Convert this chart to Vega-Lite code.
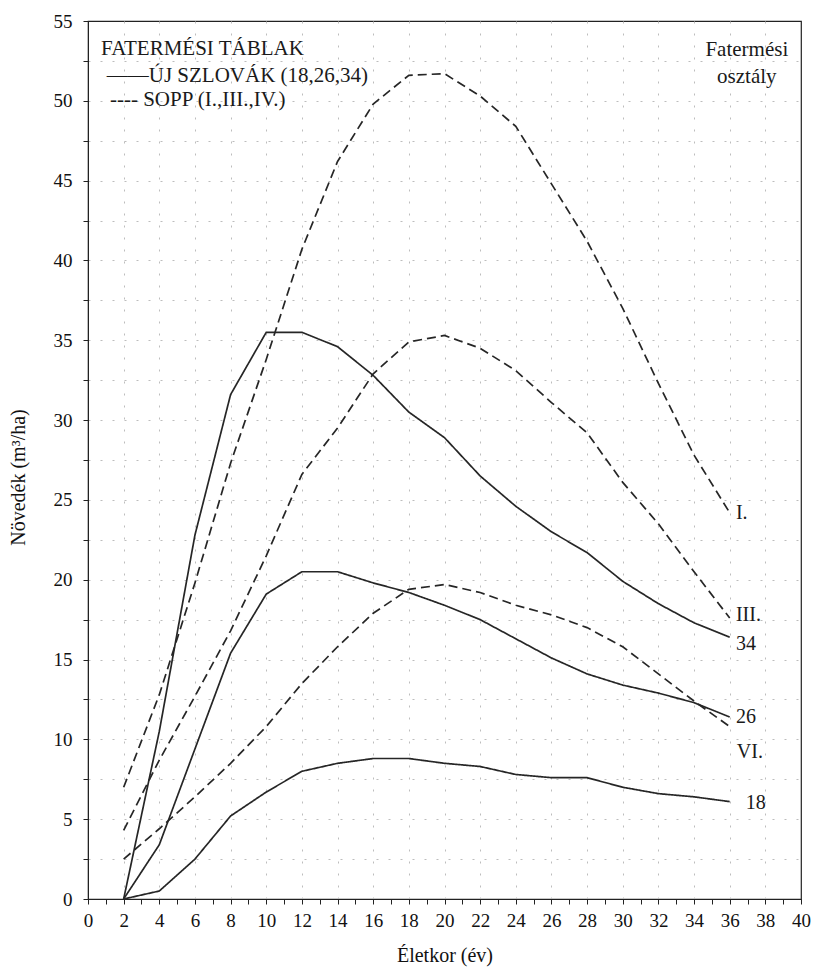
{
  "$schema": "https://vega.github.io/schema/vega-lite/v6.json",
  "width": 713,
  "height": 878,
  "autosize": "none",
  "padding": {"left": 88, "top": 21, "right": 13, "bottom": 76},
  "background": "white",
  "config": {
    "font": "Liberation Serif",
    "view": {"stroke": "#222", "strokeWidth": 1.2},
    "axis": {"labelFont": "Liberation Serif", "titleFont": "Liberation Serif"},
    "text": {"font": "Liberation Serif"}
  },
  "datasets": {
    "curves": [
      {"table": "ÚJ SZLOVÁK", "s": "34", "age": 2, "v": 0},
      {"table": "ÚJ SZLOVÁK", "s": "34", "age": 4, "v": 10.5},
      {"table": "ÚJ SZLOVÁK", "s": "34", "age": 6, "v": 22.8},
      {"table": "ÚJ SZLOVÁK", "s": "34", "age": 8, "v": 31.6},
      {"table": "ÚJ SZLOVÁK", "s": "34", "age": 10, "v": 35.5},
      {"table": "ÚJ SZLOVÁK", "s": "34", "age": 12, "v": 35.5},
      {"table": "ÚJ SZLOVÁK", "s": "34", "age": 14, "v": 34.6},
      {"table": "ÚJ SZLOVÁK", "s": "34", "age": 16, "v": 32.8},
      {"table": "ÚJ SZLOVÁK", "s": "34", "age": 18, "v": 30.5},
      {"table": "ÚJ SZLOVÁK", "s": "34", "age": 20, "v": 28.9},
      {"table": "ÚJ SZLOVÁK", "s": "34", "age": 22, "v": 26.5},
      {"table": "ÚJ SZLOVÁK", "s": "34", "age": 24, "v": 24.6},
      {"table": "ÚJ SZLOVÁK", "s": "34", "age": 26, "v": 23.0},
      {"table": "ÚJ SZLOVÁK", "s": "34", "age": 28, "v": 21.7},
      {"table": "ÚJ SZLOVÁK", "s": "34", "age": 30, "v": 19.9},
      {"table": "ÚJ SZLOVÁK", "s": "34", "age": 32, "v": 18.5},
      {"table": "ÚJ SZLOVÁK", "s": "34", "age": 34, "v": 17.3},
      {"table": "ÚJ SZLOVÁK", "s": "34", "age": 36, "v": 16.4},
      {"table": "ÚJ SZLOVÁK", "s": "26", "age": 2, "v": 0},
      {"table": "ÚJ SZLOVÁK", "s": "26", "age": 4, "v": 3.4},
      {"table": "ÚJ SZLOVÁK", "s": "26", "age": 6, "v": 9.4},
      {"table": "ÚJ SZLOVÁK", "s": "26", "age": 8, "v": 15.4},
      {"table": "ÚJ SZLOVÁK", "s": "26", "age": 10, "v": 19.1},
      {"table": "ÚJ SZLOVÁK", "s": "26", "age": 12, "v": 20.5},
      {"table": "ÚJ SZLOVÁK", "s": "26", "age": 14, "v": 20.5},
      {"table": "ÚJ SZLOVÁK", "s": "26", "age": 16, "v": 19.8},
      {"table": "ÚJ SZLOVÁK", "s": "26", "age": 18, "v": 19.2},
      {"table": "ÚJ SZLOVÁK", "s": "26", "age": 20, "v": 18.4},
      {"table": "ÚJ SZLOVÁK", "s": "26", "age": 22, "v": 17.5},
      {"table": "ÚJ SZLOVÁK", "s": "26", "age": 24, "v": 16.3},
      {"table": "ÚJ SZLOVÁK", "s": "26", "age": 26, "v": 15.1},
      {"table": "ÚJ SZLOVÁK", "s": "26", "age": 28, "v": 14.1},
      {"table": "ÚJ SZLOVÁK", "s": "26", "age": 30, "v": 13.4},
      {"table": "ÚJ SZLOVÁK", "s": "26", "age": 32, "v": 12.9},
      {"table": "ÚJ SZLOVÁK", "s": "26", "age": 34, "v": 12.3},
      {"table": "ÚJ SZLOVÁK", "s": "26", "age": 36, "v": 11.4},
      {"table": "ÚJ SZLOVÁK", "s": "18", "age": 2, "v": 0},
      {"table": "ÚJ SZLOVÁK", "s": "18", "age": 4, "v": 0.5},
      {"table": "ÚJ SZLOVÁK", "s": "18", "age": 6, "v": 2.5},
      {"table": "ÚJ SZLOVÁK", "s": "18", "age": 8, "v": 5.2},
      {"table": "ÚJ SZLOVÁK", "s": "18", "age": 10, "v": 6.7},
      {"table": "ÚJ SZLOVÁK", "s": "18", "age": 12, "v": 8.0},
      {"table": "ÚJ SZLOVÁK", "s": "18", "age": 14, "v": 8.5},
      {"table": "ÚJ SZLOVÁK", "s": "18", "age": 16, "v": 8.8},
      {"table": "ÚJ SZLOVÁK", "s": "18", "age": 18, "v": 8.8},
      {"table": "ÚJ SZLOVÁK", "s": "18", "age": 20, "v": 8.5},
      {"table": "ÚJ SZLOVÁK", "s": "18", "age": 22, "v": 8.3},
      {"table": "ÚJ SZLOVÁK", "s": "18", "age": 24, "v": 7.8},
      {"table": "ÚJ SZLOVÁK", "s": "18", "age": 26, "v": 7.6},
      {"table": "ÚJ SZLOVÁK", "s": "18", "age": 28, "v": 7.6},
      {"table": "ÚJ SZLOVÁK", "s": "18", "age": 30, "v": 7.0},
      {"table": "ÚJ SZLOVÁK", "s": "18", "age": 32, "v": 6.6},
      {"table": "ÚJ SZLOVÁK", "s": "18", "age": 34, "v": 6.4},
      {"table": "ÚJ SZLOVÁK", "s": "18", "age": 36, "v": 6.1},
      {"table": "SOPP", "s": "I.", "age": 2, "v": 7.0},
      {"table": "SOPP", "s": "I.", "age": 4, "v": 12.8},
      {"table": "SOPP", "s": "I.", "age": 6, "v": 19.8},
      {"table": "SOPP", "s": "I.", "age": 8, "v": 27.3},
      {"table": "SOPP", "s": "I.", "age": 10, "v": 33.8},
      {"table": "SOPP", "s": "I.", "age": 12, "v": 40.7},
      {"table": "SOPP", "s": "I.", "age": 14, "v": 46.2},
      {"table": "SOPP", "s": "I.", "age": 16, "v": 49.8},
      {"table": "SOPP", "s": "I.", "age": 18, "v": 51.6},
      {"table": "SOPP", "s": "I.", "age": 20, "v": 51.7},
      {"table": "SOPP", "s": "I.", "age": 22, "v": 50.3},
      {"table": "SOPP", "s": "I.", "age": 24, "v": 48.4},
      {"table": "SOPP", "s": "I.", "age": 26, "v": 44.8},
      {"table": "SOPP", "s": "I.", "age": 28, "v": 41.2},
      {"table": "SOPP", "s": "I.", "age": 30, "v": 37.0},
      {"table": "SOPP", "s": "I.", "age": 32, "v": 32.3},
      {"table": "SOPP", "s": "I.", "age": 34, "v": 27.8},
      {"table": "SOPP", "s": "I.", "age": 36, "v": 24.2},
      {"table": "SOPP", "s": "III.", "age": 2, "v": 4.3},
      {"table": "SOPP", "s": "III.", "age": 4, "v": 8.7},
      {"table": "SOPP", "s": "III.", "age": 6, "v": 12.7},
      {"table": "SOPP", "s": "III.", "age": 8, "v": 16.8},
      {"table": "SOPP", "s": "III.", "age": 10, "v": 21.5},
      {"table": "SOPP", "s": "III.", "age": 12, "v": 26.6},
      {"table": "SOPP", "s": "III.", "age": 14, "v": 29.5},
      {"table": "SOPP", "s": "III.", "age": 16, "v": 32.9},
      {"table": "SOPP", "s": "III.", "age": 18, "v": 34.9},
      {"table": "SOPP", "s": "III.", "age": 20, "v": 35.3},
      {"table": "SOPP", "s": "III.", "age": 22, "v": 34.5},
      {"table": "SOPP", "s": "III.", "age": 24, "v": 33.1},
      {"table": "SOPP", "s": "III.", "age": 26, "v": 31.1},
      {"table": "SOPP", "s": "III.", "age": 28, "v": 29.2},
      {"table": "SOPP", "s": "III.", "age": 30, "v": 26.1},
      {"table": "SOPP", "s": "III.", "age": 32, "v": 23.5},
      {"table": "SOPP", "s": "III.", "age": 34, "v": 20.5},
      {"table": "SOPP", "s": "III.", "age": 36, "v": 17.6},
      {"table": "SOPP", "s": "VI.", "age": 2, "v": 2.5},
      {"table": "SOPP", "s": "VI.", "age": 4, "v": 4.4},
      {"table": "SOPP", "s": "VI.", "age": 6, "v": 6.4},
      {"table": "SOPP", "s": "VI.", "age": 8, "v": 8.5},
      {"table": "SOPP", "s": "VI.", "age": 10, "v": 10.8},
      {"table": "SOPP", "s": "VI.", "age": 12, "v": 13.5},
      {"table": "SOPP", "s": "VI.", "age": 14, "v": 15.8},
      {"table": "SOPP", "s": "VI.", "age": 16, "v": 17.9},
      {"table": "SOPP", "s": "VI.", "age": 18, "v": 19.4},
      {"table": "SOPP", "s": "VI.", "age": 20, "v": 19.7},
      {"table": "SOPP", "s": "VI.", "age": 22, "v": 19.2},
      {"table": "SOPP", "s": "VI.", "age": 24, "v": 18.4},
      {"table": "SOPP", "s": "VI.", "age": 26, "v": 17.8},
      {"table": "SOPP", "s": "VI.", "age": 28, "v": 17.0},
      {"table": "SOPP", "s": "VI.", "age": 30, "v": 15.8},
      {"table": "SOPP", "s": "VI.", "age": 32, "v": 14.1},
      {"table": "SOPP", "s": "VI.", "age": 34, "v": 12.4},
      {"table": "SOPP", "s": "VI.", "age": 36, "v": 10.8}
    ],
    "curveLabels": [
      {"text": "I.", "age": 36.35, "v": 24.2},
      {"text": "III.", "age": 36.35, "v": 17.8},
      {"text": "34", "age": 36.35, "v": 16.0},
      {"text": "26", "age": 36.35, "v": 11.4},
      {"text": "VI.", "age": 36.4, "v": 9.2},
      {"text": "18", "age": 36.9, "v": 6.0}
    ],
    "legendText": [
      {"text": "FATERMÉSI TÁBLAK", "age": 0.73, "v": 53.27},
      {"text": "——ÚJ SZLOVÁK (18,26,34)", "age": 1.05, "v": 51.54},
      {"text": "---- SOPP (I.,III.,IV.)", "age": 1.23, "v": 50.03}
    ],
    "classText": [
      {"text": "Fatermési", "age": 36.96, "v": 53.2},
      {"text": "osztály", "age": 36.96, "v": 51.5}
    ]
  },
  "encoding": {
    "x": {
      "field": "age", "type": "quantitative",
      "scale": {"domain": [0, 40], "nice": false, "zero": false},
      "axis": {
        "values": [0,1,2,3,4,5,6,7,8,9,10,11,12,13,14,15,16,17,18,19,20,21,22,23,24,25,26,27,28,29,30,31,32,33,34,35,36,37,38,39,40],
        "labelExpr": "datum.value % 2 === 0 ? format(datum.value, 'd') : ''",
        "labelOverlap": false,
        "labelFlush": false,
        "labelFontSize": 19,
        "labelColor": "#111",
        "labelPadding": 7,
        "tickSize": 5,
        "tickColor": "#222",
        "domainColor": "#222",
        "grid": true,
        "gridColor": "#bdbdbd",
        "gridDash": [2, 10],
        "gridOpacity": {"condition": {"test": "datum.value % 2 === 0 && datum.value > 0 && datum.value < 40", "value": 1}, "value": 0},
        "title": "Életkor (év)",
        "titleFontSize": 20,
        "titleFontWeight": "normal",
        "titleColor": "#111",
        "titleBaseline": "middle",
        "titleY": 56
      }
    },
    "y": {
      "field": "v", "type": "quantitative",
      "scale": {"domain": [0, 55], "nice": false},
      "axis": {
        "values": [0,2.5,5,7.5,10,12.5,15,17.5,20,22.5,25,27.5,30,32.5,35,37.5,40,42.5,45,47.5,50,52.5,55],
        "labelExpr": "datum.value % 5 === 0 ? format(datum.value, 'd') : ''",
        "labelOverlap": false,
        "labelFlush": false,
        "labelFontSize": 19,
        "labelColor": "#111",
        "labelPadding": 11,
        "tickSize": 5,
        "tickColor": "#222",
        "domainColor": "#222",
        "grid": true,
        "gridColor": "#bdbdbd",
        "gridDash": [2, 10],
        "gridOpacity": {"condition": {"test": "datum.value > 0 && datum.value < 55", "value": 1}, "value": 0},
        "title": "Növedék (m³/ha)",
        "titleFontSize": 20,
        "titleFontWeight": "normal",
        "titleColor": "#111",
        "titleAngle": -90,
        "titleAlign": "center",
        "titleBaseline": "middle",
        "titleX": -70,
        "titleY": 456
      }
    }
  },
  "layer": [
    {
      "data": {"name": "curves"},
      "mark": {"type": "line", "color": "#262626", "strokeWidth": 1.7},
      "encoding": {
        "detail": {"field": "s", "type": "nominal"},
        "strokeDash": {
          "field": "table", "type": "nominal",
          "scale": {"domain": ["ÚJ SZLOVÁK", "SOPP"], "range": [[1, 0], [9, 5]]},
          "legend": null
        }
      }
    },
    {
      "data": {"name": "curveLabels"},
      "mark": {"type": "text", "align": "left", "baseline": "middle", "fontSize": 20, "color": "#1a1a1a"},
      "encoding": {"text": {"field": "text", "type": "nominal"}}
    },
    {
      "data": {"name": "legendText"},
      "mark": {"type": "text", "align": "left", "baseline": "middle", "fontSize": 21, "color": "#1a1a1a"},
      "encoding": {"text": {"field": "text", "type": "nominal"}}
    },
    {
      "data": {"name": "classText"},
      "mark": {"type": "text", "align": "center", "baseline": "middle", "fontSize": 21, "color": "#1a1a1a"},
      "encoding": {"text": {"field": "text", "type": "nominal"}}
    }
  ]
}
